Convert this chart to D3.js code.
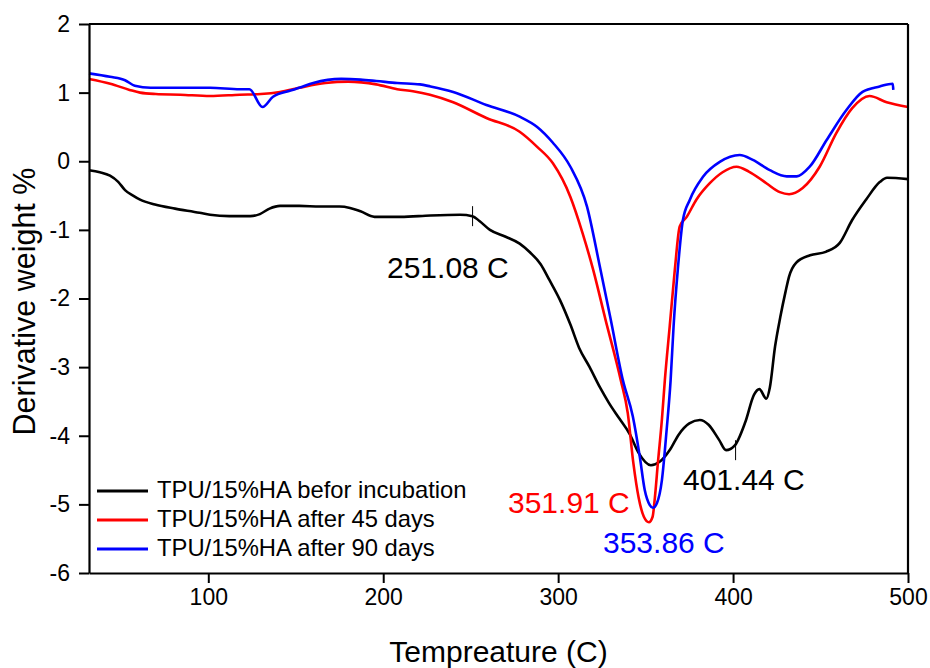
<!DOCTYPE html>
<html>
<head>
<meta charset="utf-8">
<script src="https://cdn.jsdelivr.net/npm/d3@7"></script>
<style>
  html, body { margin: 0; padding: 0; background: #fff; }
  svg { display: block; font-family: "Liberation Sans", Arial, sans-serif; }
</style>
</head>
<body>
<svg id="chart" width="930" height="668"></svg>
<script>
// ---- Data ----
const xTicks = [100, 200, 300, 400, 500];
const yTicks = [-6, -5, -4, -3, -2, -1, 0, 1, 2];

const seriesNames = [
  "TPU/15%HA befor incubation",
  "TPU/15%HA after 45 days",
  "TPU/15%HA after 90 days"
];
const seriesColors = ["#000000", "#ff0000", "#0000ff"];

const blackT = [31.8, 38, 43.8, 48.5, 52.4, 57, 61, 69.5, 81, 95, 101, 112, 124, 129.5, 135, 141, 152, 164, 175, 181, 187, 195, 210, 227, 244, 251, 255, 261, 270, 278, 284, 290, 295, 301, 307, 312, 318, 324, 329, 335, 341, 346, 353, 358, 364, 369, 375, 381, 386, 392, 396, 401, 407, 412, 415, 419, 421, 424, 427, 430, 432, 436, 444, 453, 461, 468, 476, 484, 488, 500];
const blackV = [-0.13, -0.16, -0.21, -0.3, -0.42, -0.5, -0.56, -0.63, -0.69, -0.75, -0.78, -0.8, -0.8, -0.77, -0.69, -0.65, -0.65, -0.66, -0.66, -0.68, -0.73, -0.81, -0.81, -0.79, -0.78, -0.8, -0.87, -1.0, -1.1, -1.2, -1.33, -1.5, -1.73, -2.02, -2.38, -2.72, -3.0, -3.3, -3.52, -3.75, -3.98, -4.25, -4.43, -4.38, -4.2, -3.98, -3.82, -3.77, -3.84, -4.06, -4.21, -4.14, -3.8, -3.4, -3.32, -3.46, -3.3, -2.7, -2.27, -1.9, -1.68, -1.48, -1.37, -1.32, -1.19, -0.86, -0.56, -0.3, -0.24, -0.26];

const redT = [31.8, 44, 55, 61, 70, 84, 101, 118, 130, 141, 152, 167, 180, 196, 208, 217, 226.7, 240, 259, 278, 288, 297, 307, 314, 320, 327, 335.8, 339.8, 343, 346, 349, 351.9, 354, 355.3, 357, 359.3, 361, 363.8, 366.7, 369.5, 373.5, 379, 386.7, 394, 402, 409, 419, 426.7, 432, 439.8, 449.5, 459, 468, 478, 487.8, 500];
const redV = [1.2, 1.13, 1.04, 1.0, 0.98, 0.97, 0.95, 0.97, 0.98, 1.01, 1.07, 1.14, 1.16, 1.12, 1.05, 1.02, 0.97, 0.86, 0.63, 0.43, 0.21, -0.03, -0.52, -1.05, -1.58, -2.3, -3.19, -3.67, -4.4, -4.9, -5.18, -5.26, -5.18, -4.9, -4.4, -3.77, -3.19, -2.4, -1.58, -0.95, -0.81, -0.56, -0.32, -0.16, -0.08, -0.15, -0.32, -0.45, -0.48, -0.39, -0.08, 0.41, 0.77, 0.95, 0.86, 0.79];

const blueT = [31.8, 43.8, 52.4, 58, 67, 84, 101, 118, 123.5, 131, 137, 147, 152, 160, 176, 187, 196, 208, 221, 227, 240, 259, 278, 288, 297, 307, 316.5, 323.8, 330, 337, 342.7, 346.7, 349.5, 352.4, 354.2, 356.5, 359.3, 362, 364.3, 366, 368.4, 371.3, 375.3, 382.7, 392.4, 403.8, 411.3, 421, 430.7, 436.4, 443.8, 453.5, 464.9, 474, 483.8, 491.3, 491.6];
const blueV = [1.28, 1.23, 1.18, 1.1, 1.07, 1.07, 1.07, 1.05, 1.05, 0.79, 0.94, 1.03, 1.07, 1.14, 1.2, 1.19, 1.17, 1.14, 1.12, 1.09, 1.01, 0.82, 0.65, 0.5, 0.27, -0.08, -0.66, -1.53, -2.3, -3.19, -3.72, -4.31, -4.79, -5.01, -5.05, -4.98, -4.65, -3.92, -3.19, -2.4, -1.58, -0.86, -0.56, -0.23, -0.01, 0.09, 0.02, -0.13, -0.22, -0.22, -0.08, 0.31, 0.75, 1.01, 1.09, 1.13, 1.04];

const peakLabels = ["251.08 C", "351.91 C", "353.86 C", "401.44 C"];
const peakTemps = [251.08, 351.91, 353.86, 401.44];
const peakValues = [-0.8, -5.26, -5.05, -4.21];
const peakColors = ["#000000", "#ff0000", "#0000ff", "#000000"];
const peakMarked = [true, false, false, true];

(function draw() {
  const svg = d3.select("#chart");
  const mL = 89, mR = 908, mT = 24, mB = 573;
  const x = d3.scaleLinear().domain([31.8, 500]).range([mL, mR]);
  const y = d3.scaleLinear().domain([-6, 2]).range([mB, mT]);
  const FONT = "'Liberation Sans', Arial, sans-serif";

  const series = [
    blackT.map((t, i) => [t, blackV[i]]),
    redT.map((t, i) => [t, redV[i]]),
    blueT.map((t, i) => [t, blueV[i]])
  ];
  const line = d3.line().x(d => x(d[0])).y(d => y(d[1])).curve(d3.curveMonotoneX);
  const plot = svg.append("g");
  series.forEach((s, i) => {
    plot.append("path")
      .attr("d", line(s))
      .attr("fill", "none")
      .attr("stroke", seriesColors[i])
      .attr("stroke-width", 2.6)
      .attr("stroke-linejoin", "round");
  });

  peakTemps.forEach((t, i) => {
    if (!peakMarked[i]) return;
    plot.append("line")
      .attr("x1", x(t)).attr("x2", x(t))
      .attr("y1", y(peakValues[i]) - 10).attr("y2", y(peakValues[i]) + 10)
      .attr("stroke", "#000").attr("stroke-width", 1);
  });

  const labelPos = [[387, 278], [508, 513], [603, 553], [683, 490]];
  peakLabels.forEach((lab, i) => {
    svg.append("text")
      .attr("x", labelPos[i][0]).attr("y", labelPos[i][1])
      .attr("font-family", FONT).attr("font-size", 30)
      .attr("fill", peakColors[i])
      .text(lab);
  });

  const fmt = d => String(d);
  const xAxis = d3.axisBottom(x).tickValues(xTicks).tickFormat(fmt).tickSize(10).tickSizeOuter(0).tickPadding(6);
  const yAxis = d3.axisLeft(y).tickValues(yTicks).tickFormat(fmt).tickSize(10).tickSizeOuter(0).tickPadding(9);

  const gx = svg.append("g").attr("transform", `translate(0,${mB})`).call(xAxis);
  const gy = svg.append("g").attr("transform", `translate(${mL},0)`).call(yAxis);
  [gx, gy].forEach(g => {
    g.select(".domain").attr("stroke-width", 2.2).attr("stroke", "#000");
    g.selectAll(".tick line").attr("stroke-width", 2).attr("stroke", "#000");
    g.selectAll(".tick text").attr("font-family", FONT).attr("font-size", 23).attr("fill", "#000");
  });
  svg.append("line").attr("x1", mL).attr("x2", mR).attr("y1", mT).attr("y2", mT)
    .attr("stroke", "#000").attr("stroke-width", 2.2);
  svg.append("line").attr("x1", mR).attr("x2", mR).attr("y1", mT).attr("y2", mB)
    .attr("stroke", "#000").attr("stroke-width", 2.2);

  svg.append("text")
    .attr("x", (mL + mR) / 2).attr("y", 662)
    .attr("text-anchor", "middle")
    .attr("font-family", FONT).attr("font-size", 30)
    .text("Tempreature (C)");
  svg.append("text")
    .attr("transform", `translate(35,${(mT + mB) / 2 + 3}) rotate(-90)`)
    .attr("text-anchor", "middle")
    .attr("font-family", FONT).attr("font-size", 30.5)
    .text("Derivative weight %");

  const legendY = [491, 520, 549];
  seriesNames.forEach((name, i) => {
    svg.append("line")
      .attr("x1", 97).attr("x2", 148)
      .attr("y1", legendY[i]).attr("y2", legendY[i])
      .attr("stroke", seriesColors[i]).attr("stroke-width", 2.8);
    svg.append("text")
      .attr("x", 157).attr("y", legendY[i] + 7)
      .attr("font-family", FONT).attr("font-size", 23.8)
      .text(name);
  });
})();
</script>
</body>
</html>
